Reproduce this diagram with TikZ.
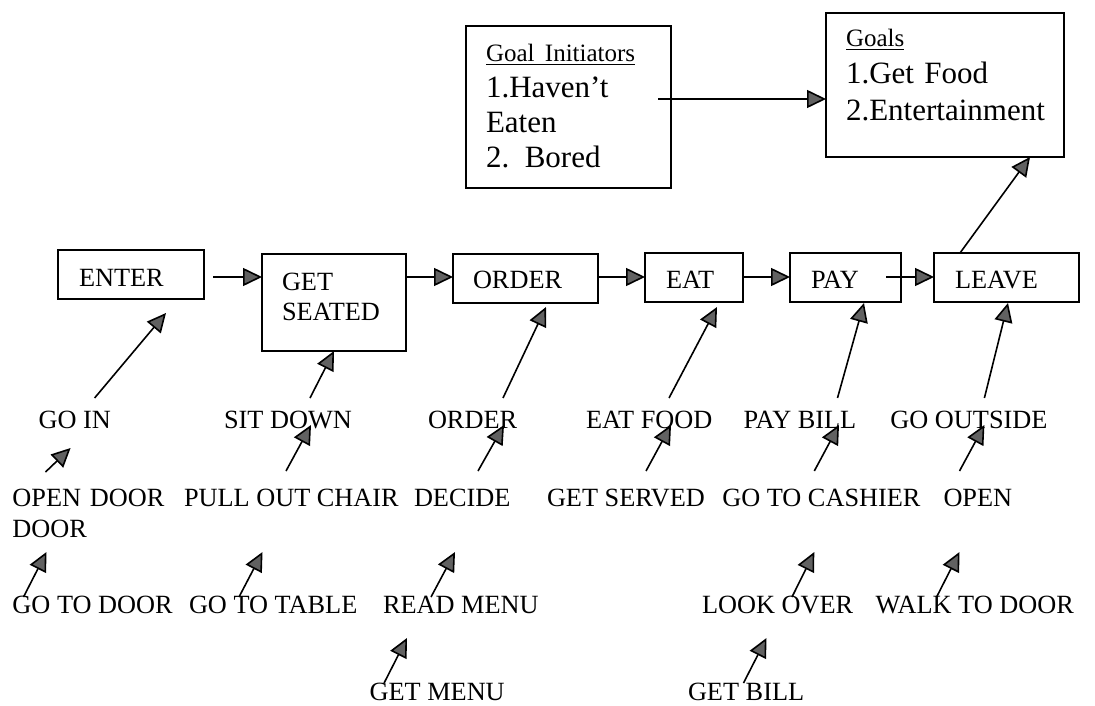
\documentclass[tikz,border=0pt]{standalone}
\usepackage{fontspec}
\setmainfont{Liberation Serif}
\usetikzlibrary{arrows.meta,calc}
% underlined heading with a heavier rule set just below the baseline
\newcommand\ulinetext[1]{\setbox0\hbox{#1}\rlap{\rule[-3pt]{\wd0}{1.3pt}}\box0}
\begin{document}
\begin{tikzpicture}[x=1pt,y=-1pt,
  stage/.style={draw, line width=1.5pt, align=left, inner ysep=0pt, outer sep=0pt,
    anchor=north west, font=\fontsize{26.3}{30}\selectfont},
  lbl/.style={inner sep=0pt, outer sep=0pt, anchor=base west, text height=18pt,
    text depth=0pt, font=\fontsize{26.3}{31}\selectfont},
  arr/.style={line width=1.6pt, -{Triangle[length=19pt,width=18pt,fill=black!62]}},
]
\fill[white] (0,0) rectangle (1095,706);
\useasboundingbox (0,0) rectangle (1095,706);

% goal boxes
\node[stage, font=\fontsize{31}{35.3}\selectfont, inner xsep=20pt, text width=165pt,
      text height=36pt, text depth=126pt] (init) at (466,26)
  {{\fontsize{25}{35.3}\selectfont\ulinetext{Goal Initiators}}\\1.Haven't\\Eaten\\2. Bored};
\node[stage, font=\fontsize{31}{36.6}\selectfont, inner xsep=20pt, text width=198pt,
      text height=34pt, text depth=110pt] (goals) at (826,13)
  {{\fontsize{25}{36.6}\selectfont\ulinetext{Goals}}\\1.Get Food\\2.Entertainment};

% main scene
\node[stage, inner xsep=21pt, text width=104pt, text height=36pt, text depth=13pt] (enter) at (58,250) {ENTER};
\node[stage, inner xsep=20pt, text width=104pt, text height=36pt, text depth=61pt] (seated) at (262,254) {GET\\SEATED};
\node[stage, inner xsep=20pt, text width=105pt, text height=34pt, text depth=15pt] (order) at (453,254) {ORDER};
\node[stage, inner xsep=21pt, text width=56pt, text height=35pt, text depth=14pt] (eat) at (645,253) {EAT};
\node[stage, inner xsep=21pt, text width=69pt, text height=35pt, text depth=14pt] (pay) at (790,253) {PAY};
\node[stage, inner xsep=21pt, text width=103pt, text height=35pt, text depth=14pt] (leave) at (934,253) {LEAVE};

% actions, first level
\node[lbl] (goin) at (38.6,428) {GO IN};
\node[lbl] (sitdown) at (224,428) {SIT DOWN};
\node[lbl] (orderl) at (428,428) {ORDER};
\node[lbl] (eatfood) at (586,428) {EAT FOOD};
\node[lbl] (paybill) at (743.5,428) {PAY BILL};
\node[lbl] (gooutside) at (890.4,428) {GO OUTSIDE};

% actions, second level
\node[lbl, text width=160pt, align=left] (opendoor) at (12.5,506) {OPEN DOOR\\DOOR};
\node[lbl] (pullout) at (184,506) {PULL OUT CHAIR};
\node[lbl] (decide) at (414,506) {DECIDE};
\node[lbl] (getserved) at (547,506) {GET SERVED};
\node[lbl] (gotocashier) at (722.3,506) {GO TO CASHIER};
\node[lbl] (open) at (943.5,506) {OPEN};

% actions, third level
\node[lbl] (gotodoor) at (12.5,613) {GO TO DOOR};
\node[lbl] (gototable) at (189,613) {GO TO TABLE};
\node[lbl] (readmenu) at (383,613) {READ MENU};
\node[lbl] (lookover) at (702,613) {LOOK OVER};
\node[lbl] (walktodoor) at (875.6,613) {WALK TO DOOR};

% actions, fourth level
\node[lbl] (getmenu) at (369.6,700.5) {GET MENU};
\node[lbl] (getbill) at (688,700.5) {GET BILL};

% goal links
\coordinate (ia) at ($(init.east)+(-13,-8)$);
\draw[arr] (ia) -- (ia -| goals.west);
\draw[arr] ($(leave.north west)+(26,0)$) -- ($(goals.south west)+(204,0)$);

% scene sequence
\coordinate (rowy) at (0,277);
\draw[arr] ($(enter.east |- rowy)+(9,0)$) -- (seated.west |- rowy);
\draw[arr] ($(seated.east |- rowy)+(1,0)$) -- (order.west |- rowy);
\draw[arr] (order.east |- rowy) -- (eat.west |- rowy);
\draw[arr] (eat.east |- rowy) -- (pay.west |- rowy);
\draw[arr] ($(pay.east |- rowy)+(-15,0)$) -- (leave.west |- rowy);

% first level into scenes
\draw[arr] ($(goin.base west)+(56,-30)$) -- ($(enter.south west)+(108,14)$);
\draw[arr] ($(sitdown.base west)+(86,-30)$) -- ($(seated.south west)+(72,0)$);
\draw[arr] ($(orderl.base west)+(75,-30)$) -- ($(order.south west)+(93,4)$);
\draw[arr] ($(eatfood.base west)+(83,-30)$) -- ($(eat.south west)+(72,5)$);
\draw[arr] ($(paybill.base west)+(94,-30)$) -- ($(pay.south west)+(74,1)$);
\draw[arr] ($(gooutside.base west)+(94,-30)$) -- ($(leave.south west)+(74,1)$);

% second level into first
\draw[arr] ($(opendoor.base west)+(33,-34)$) -- ($(goin.base west)+(32,20)$);
\draw[arr] ($(pullout.base west)+(102,-35)$) -- ($(sitdown.base west)+(87,-3)$);
\draw[arr] ($(decide.base west)+(64,-35)$) -- ($(orderl.base west)+(76,-3)$);
\draw[arr] ($(getserved.base west)+(99,-35)$) -- ($(eatfood.base west)+(85,-3)$);
\draw[arr] ($(gotocashier.base west)+(92,-35)$) -- ($(paybill.base west)+(95.5,-3)$);
\draw[arr] ($(open.base west)+(16,-35)$) -- ($(gooutside.base west)+(94,-3)$);

% third level into second
\draw[arr] ($(gotodoor.base west)+(11,-16)$) -- ($(opendoor.base west)+(34,46)$);
\draw[arr] ($(gototable.base west)+(50,-16)$) -- ($(pullout.base west)+(78.5,46)$);
\draw[arr] ($(readmenu.base west)+(48,-16)$) -- ($(decide.base west)+(41,46)$);
\draw[arr] ($(lookover.base west)+(90,-16)$) -- ($(gotocashier.base west)+(92,46)$);
\draw[arr] ($(walktodoor.base west)+(61,-16)$) -- ($(open.base west)+(16,46)$);

% fourth level into third
\draw[arr] ($(getmenu.base west)+(14.5,-17.5)$) -- ($(readmenu.base west)+(24,25)$);
\draw[arr] ($(getbill.base west)+(55.5,-17.5)$) -- ($(lookover.base west)+(64.5,25)$);
\end{tikzpicture}
\end{document}
